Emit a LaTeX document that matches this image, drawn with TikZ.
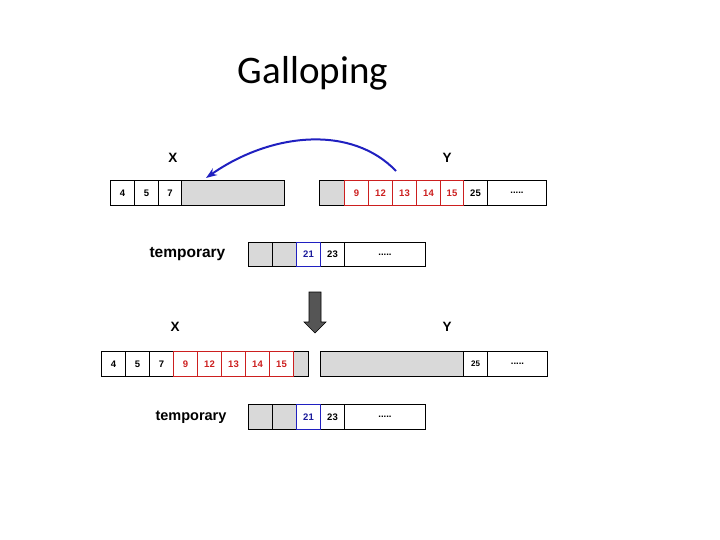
\documentclass[tikz,border=0pt]{standalone}
\usepackage{fontspec}
\setmainfont{Carlito}
\newfontfamily\arialf{Liberation Sans}
\usetikzlibrary{arrows.meta}
\definecolor{cellgray}{HTML}{D9D9D9}
\definecolor{redc}{HTML}{CC1F1F}
\definecolor{bluec}{HTML}{2020C0}
\definecolor{arrowgray}{HTML}{555555}
\begin{document}
\begin{tikzpicture}[x=1pt,y=-1pt,
  cell/.style={draw=black, line width=1pt, anchor=north west, inner sep=0pt,
    minimum height=25pt, minimum width=24pt, font=\arialf\bfseries\fontsize{9.5}{10}\selectfont},
  gcell/.style={cell, fill=cellgray},
  rcell/.style={cell, draw=redc, text=redc},
  bcell/.style={cell, draw=bluec, text=bluec!80!black},
  lab/.style={font=\arialf\bfseries\fontsize{13.5}{14}\selectfont},
  tmp/.style={font=\arialf\bfseries\fontsize{15.5}{16}\selectfont}]
\useasboundingbox (0,0) rectangle (720,540);
\node[font=\fontsize{39}{44}\selectfont, anchor=base] (title) at (313,84) {Galloping};
% top row X
\node[lab] (X1) at (173,158) {X};
\node[lab] (Y1) at (447,158) {Y};
\node[cell] (a1) at (110,180) {4};
\node[cell] (a2) at (134,180) {5};
\node[cell, minimum width=23pt] (a3) at (158,180) {7};
\node[gcell, minimum width=103pt] (a4) at (181,180) {};
% top row Y
\node[gcell, minimum width=25pt] (b0) at (319,180) {};
\node[cell] (b6) at (463,180) {25};
\node[cell, minimum width=59pt] (b7) at (487,180) {.....};
\node[rcell] (b1) at (344,180) {9};
\node[rcell] (b2) at (368,180) {12};
\node[rcell] (b3) at (392,180) {13};
\node[rcell] (b4) at (416,180) {14};
\node[rcell, minimum width=23pt] (b5) at (440,180) {15};
% arrow
\coordinate (as) at (396,171);
\coordinate (ae) at (206,178);
\draw[bluec, line width=2pt, -{Stealth[length=11pt,width=8pt]}] (as) .. controls (352,125) and (272,132) .. (ae);
% temporary 1
\node[tmp, anchor=west] (t1) at (146,254) {temporary};
\node[gcell, minimum height=24pt] (c1) at (248,242) {};
\node[gcell, minimum height=24pt] (c2) at (272,242) {};
\node[cell, minimum height=24pt] (c4) at (320,242) {23};
\node[cell, minimum height=24pt, minimum width=81pt] (c5) at (344,242) {.....};
\node[bcell, minimum height=24pt] (c3) at (296,242) {21};
% down arrow
\fill[arrowgray, draw=black, line width=0.6pt] (309,292) -- (321,292) -- (321,322) -- (326,322) -- (315,333) -- (304,322) -- (309,322) -- cycle;
% bottom row
\node[lab] (X2) at (175,327) {X};
\node[lab] (Y2) at (447,327) {Y};
\node[cell] (d1) at (101,351) {4};
\node[cell] (d2) at (125,351) {5};
\node[cell] (d3) at (149,351) {7};
\node[gcell, minimum width=15pt] (d9) at (293,351) {};
\node[rcell] (d4) at (173,351) {9};
\node[rcell] (d5) at (197,351) {12};
\node[rcell] (d6) at (221,351) {13};
\node[rcell] (d7) at (245,351) {14};
\node[rcell] (d8) at (269,351) {15};
\node[gcell, minimum width=143pt] (e1) at (320,351) {};
\node[cell, font=\arialf\bfseries\fontsize{8}{8}\selectfont] (e2) at (463,351) {25};
\node[cell, minimum width=60pt] (e3) at (487,351) {.....};
% temporary 2
\node[anchor=west, font=\arialf\bfseries\fontsize{14.5}{15}\selectfont] (t2) at (152,417) {temporary};
\node[gcell] (f1) at (248,404) {};
\node[gcell] (f2) at (272,404) {};
\node[cell] (f4) at (320,404) {23};
\node[cell, minimum width=81pt] (f5) at (344,404) {.....};
\node[bcell] (f3) at (296,404) {21};
\end{tikzpicture}
\end{document}
